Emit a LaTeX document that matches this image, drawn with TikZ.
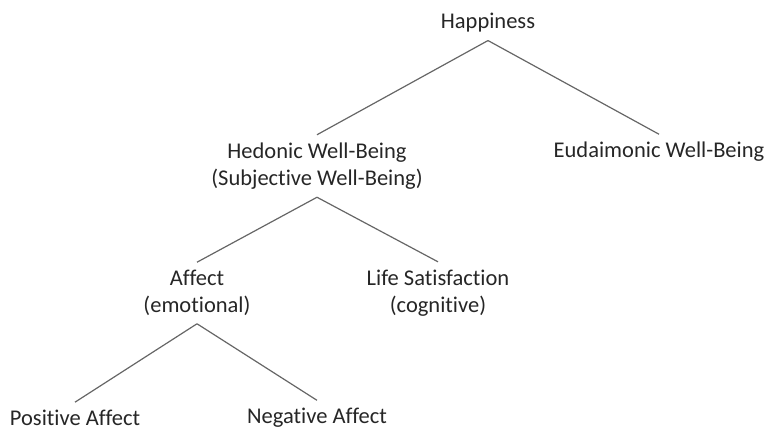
\documentclass[tikz,border=0pt]{standalone}
\usepackage{fontspec}
\setmainfont{Carlito}[Ligatures=NoCommon]
\usetikzlibrary{positioning}

\begin{document}
\begin{tikzpicture}[
    x=1pt, y=-1pt,
    font=\fontsize{22.5}{27}\selectfont,
    term/.style={align=center, inner xsep=2pt, inner ysep=0pt, outer ysep=8pt, text=black!85},
    link/.style={draw=black!60, line width=1.2pt}
]
\useasboundingbox (0,0) rectangle (765,427);
\node[term] (happy) at (488,23) {Happiness};
\node[term] (hedonic) at (317,166) {Hedonic Well-Being\\(Subjective Well-Being)};
\node[term] (eudaimonic) at (659,152) {Eudaimonic Well-Being};
\node[term] (affect) at (197,293) {Affect\\(emotional)};
\node[term] (lifesat) at (438,293) {Life Satisfaction\\(cognitive)};
\node[term] (positive) at (75,418) {Positive Affect};
\node[term] (negative) at (317,418) {Negative Affect};

\draw[link] (happy.south) -- (hedonic.north);
\draw[link] (happy.south) -- (eudaimonic.north);
\draw[link] (hedonic.south) -- (affect.north);
\draw[link] (hedonic.south) -- (lifesat.north);
\draw[link] (affect.south) -- (positive.north);
\draw[link] (affect.south) -- (negative.north);
\end{tikzpicture}
\end{document}
